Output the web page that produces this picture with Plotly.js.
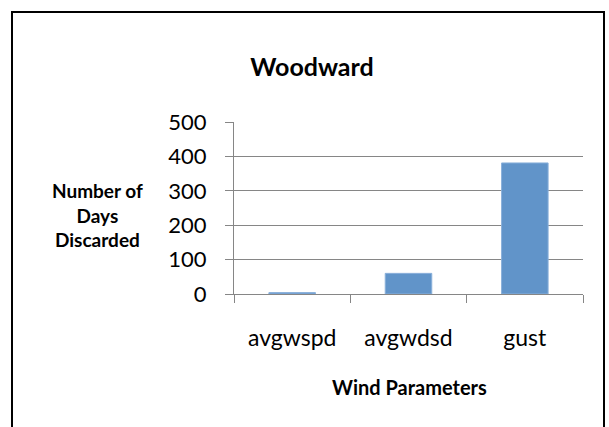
<!DOCTYPE html>
<html><head><meta charset="utf-8">
<script src="https://cdn.plot.ly/plotly-3.0.1.min.js"></script>
<style>
html,body{margin:0;padding:0;background:#fff;overflow:hidden;}
#frame{position:absolute;left:11px;top:11px;width:590px;height:440px;border:2px solid #000;pointer-events:none;z-index:5;}
#chart{position:absolute;left:0;top:0;width:609px;height:427px;}
</style></head>
<body>
<div id="chart"></div>
<div id="frame"></div>
<script>
const categories = ["avgwspd", "avgwdsd", "gust"];
const daysDiscarded = [4, 60, 381];
const yTicks = [0, 100, 200, 300, 400, 500];

const font = "Lato, 'Open Sans', sans-serif";
const trace = {
  type: "bar",
  x: categories,
  y: daysDiscarded,
  marker: {color: "#6194C9", line: {color: "#8AB0DA", width: 1}},
  hoverinfo: "none"
};
const W = 609, H = 427, L = 234, R = 26, T = 122, B = 133;
const pw = W - L - R;
const layout = {
  width: W, height: H,
  margin: {l: L, r: R, t: T, b: B, pad: 0},
  paper_bgcolor: "#fff", plot_bgcolor: "#fff",
  showlegend: false,
  bargap: 0.6,
  font: {family: font, color: "#000"},
  title: {text: "<b>Woodward</b>", font: {family: font, size: 25, color: "#000"},
          xref: "container", yref: "container", x: 312 / W, y: 1 - 67 / H,
          xanchor: "center", yanchor: "middle"},
  xaxis: {
    type: "category", range: [-0.5, 2.5], tickson: "boundaries",
    ticks: "outside", ticklen: 8, tickcolor: "#868686", tickwidth: 1,
    showline: true, linecolor: "#868686", linewidth: 1,
    showgrid: false, zeroline: false,
    tickfont: {family: font, size: 23, color: "#000"},
    ticklabelstandoff: 23,
    fixedrange: true
  },
  yaxis: {
    range: [0, 500], tickvals: yTicks, ticktext: yTicks.map(String),
    ticks: "outside", ticklen: 8, tickcolor: "#868686", tickwidth: 1,
    showline: true, linecolor: "#868686", linewidth: 1,
    showgrid: true, gridcolor: "#868686", gridwidth: 1,
    zeroline: false,
    tickfont: {family: font, size: 22, color: "#000"},
    ticklabelstandoff: 14,
    fixedrange: true
  },
  annotations: [
    {text: "<b>Number of<br>Days<br>Discarded</b>", xref: "paper", yref: "paper",
     x: (97 - L) / pw, y: (H - B - 215) / (H - T - B) , xanchor: "center", yanchor: "middle",
     showarrow: false, align: "center", font: {family: font, size: 19, color: "#000"}},
    {text: "<b>Wind Parameters</b>", xref: "paper", yref: "paper",
     x: (409 - L) / pw, y: (H - B - 387) / (H - T - B), xanchor: "center", yanchor: "middle",
     showarrow: false, font: {family: font, size: 20, color: "#000"}}
  ]
};
Plotly.newPlot("chart", [trace], layout, {staticPlot: true, displayModeBar: false});
</script>
</body></html>
